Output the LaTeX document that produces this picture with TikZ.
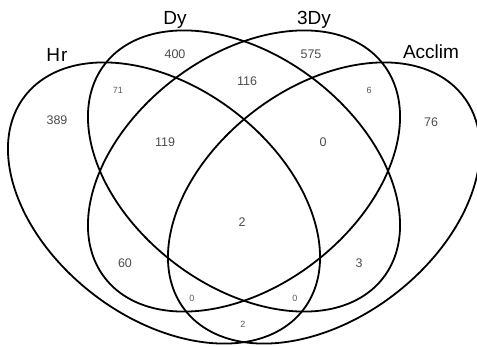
\documentclass[tikz,border=0pt]{standalone}
\usepackage{fontspec}
\setmainfont{Liberation Sans}
\begin{document}
\begin{tikzpicture}[x=1pt,y=1pt,
  ell/.style={draw=black,line width=1.8pt},
  setlabel/.style={font=\fontsize{19}{19}\selectfont,text=black,inner sep=0pt},
  num/.style={font=\fontsize{12.5}{12.5}\selectfont,text=black!70,inner sep=0pt},
  small/.style={font=\fontsize{9}{9}\selectfont,text=black!65,inner sep=0pt}]
\useasboundingbox (0,0) rectangle (477,346);
% ellipses (pixel y converted: Y = 346 - y)
\draw[ell,shift={(164,143)},yscale=0.9009,rotate=-45] (0,0) ellipse [x radius=183.6pt,y radius=122.4pt];
\draw[ell,shift={(244,175)},yscale=0.9009,rotate=-45] (0,0) ellipse [x radius=183.6pt,y radius=122.4pt];
\draw[ell,shift={(244,175)},yscale=0.9009,rotate=45] (0,0) ellipse [x radius=183.6pt,y radius=122.4pt];
\draw[ell,shift={(324,143)},yscale=0.9009,rotate=45] (0,0) ellipse [x radius=183.6pt,y radius=122.4pt];
% set labels
\node[setlabel] (lhr) at (57,291) {H\kern1pt r};
\node[setlabel] (ldy) at (175,326) {Dy};
\node[setlabel] (l3dy) at (314,326) {3Dy};
\node[setlabel] (lacc) at (431,294) {Acclim};
% counts
\node[num] (n389) at (57,226) {389};
\node[small] (n71) at (118,256) {71};
\node[num] (n400) at (175,292) {400};
\node[num] (n119) at (165,204) {119};
\node[num] (n116) at (247,265) {116};
\node[num] (n575) at (311,292) {575};
\node[small] (n6) at (369,256) {6};
\node[num] (n76) at (431,224) {76};
\node[num] (n0a) at (323,204) {0};
\node[num] (n60) at (125,83) {60};
\node[num] (n2) at (242,124) {2};
\node[num] (n3) at (359,83) {3};
\node[small] (n0b) at (192,48) {0};
\node[small] (n0c) at (295,48) {0};
\node[small] (n2b) at (243,22) {2};
\end{tikzpicture}
\end{document}
